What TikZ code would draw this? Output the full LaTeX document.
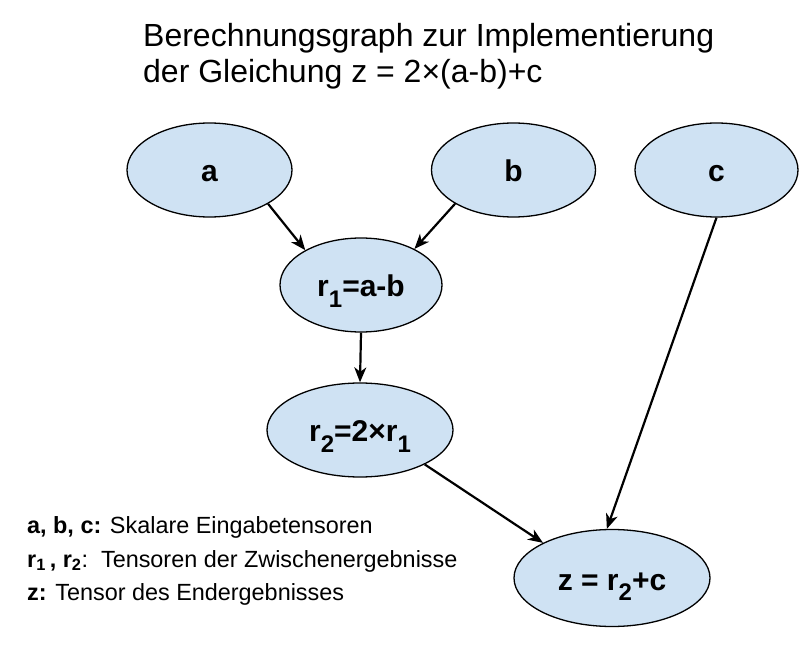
\documentclass[tikz,border=0pt]{standalone}
\usepackage{fontspec}
\setmainfont{Liberation Sans}
\usetikzlibrary{shapes.geometric,arrows.meta}
\definecolor{tensorblue}{RGB}{207, 226, 243}
\newcommand{\lowidx}[1]{\raisebox{-10.5pt}{\fontsize{24}{24}\selectfont #1}}

\begin{document}
\begin{tikzpicture}[x=1pt, y=-1pt,
    tensor/.style={ellipse, draw=black, line width=1.3pt, fill=tensorblue,
      inner sep=0pt, text height=26pt, text depth=2pt,
      font=\fontsize{30}{34}\selectfont\bfseries},
    flow/.style={-{Stealth[length=15pt, width=12pt, inset=4.5pt]}, line width=2.2pt},
    legend/.style={anchor=base west, inner sep=0pt, font=\fontsize{23.4}{27}\selectfont}]
  \useasboundingbox (0,0) rectangle (812,652);
  % title
  \node[anchor=base west, inner sep=0pt, font=\fontsize{32}{36}\selectfont] (title1) at (143,47) {Berechnungsgraph zur Implementierung};
  \node[anchor=base west, inner sep=0pt, font=\fontsize{32}{36}\selectfont] (title2) at (143,83) {der Gleichung z = 2×(a-b)+c};
  % inputs
  \node[tensor, minimum width=165, minimum height=94] (a) at (209.5,170) {a};
  \node[tensor, minimum width=164, minimum height=94] (b) at (513.5,170) {b};
  \node[tensor, minimum width=163, minimum height=94] (c) at (716.5,170) {c};
  % intermediate and result
  \node[tensor, minimum width=162, minimum height=94] (r1) at (361,285) {r\lowidx{1}=a-b};
  \node[tensor, minimum width=186, minimum height=94] (r2) at (360,430) {r\lowidx{2}=2×r\lowidx{1}};
  \node[tensor, minimum width=196, minimum height=97] (z) at (612,578) {z = r\lowidx{2}+c};
  % edges
  \draw[flow] (a.-30) -- (r1.148);
  \draw[flow] (b.-150) -- (r1.34);
  \draw[flow] (r1.south) -- (r2.north);
  \draw[flow] (r2.-28) -- (z.153);
  \draw[flow] (c.south) -- (z.96);
  % legend
  \node[legend] (legabc) at (27,533) {\textbf{a, b, c:} Skalare Eingabetensoren};
  \node[legend] (legr) at (27,567) {\textbf{r\textsubscript{1}\,, r\textsubscript{2}}:\ \ Tensoren der Zwischenergebnisse};
  \node[legend] (legz) at (27,600) {\textbf{z:} Tensor des Endergebnisses};
\end{tikzpicture}
\end{document}
